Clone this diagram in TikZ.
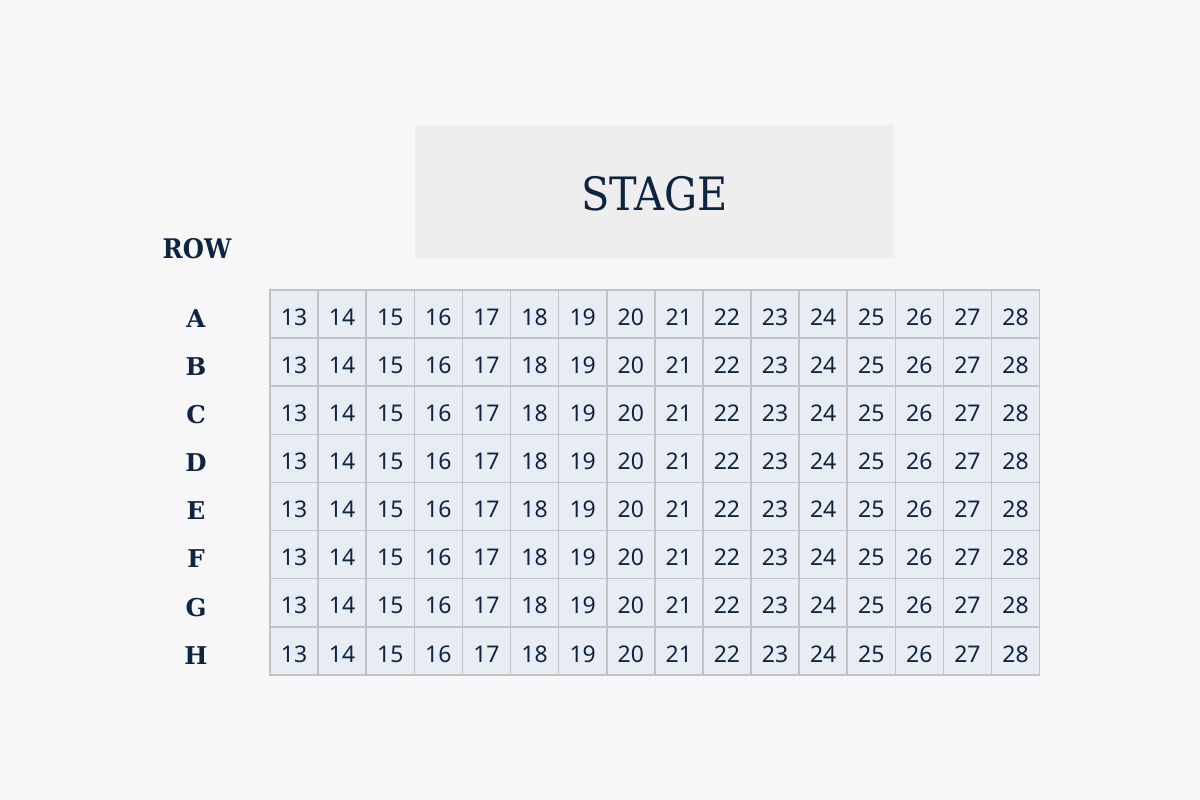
\documentclass[tikz,border=0pt]{standalone}
\usepackage{fontspec}
\setmainfont{Noto Sans}
\newfontfamily\serifc{DejaVu Serif Condensed}
\newfontfamily\serifn{DejaVu Serif}
\definecolor{bg}{HTML}{F7F7F7}
\definecolor{stagefill}{HTML}{EEEEEE}
\definecolor{ink}{HTML}{0F2440}
\definecolor{cellfill}{HTML}{E8EDF4}
\definecolor{cellline}{HTML}{C0C3C9}
\begin{document}
\begin{tikzpicture}[x=1pt,y=-1pt,
  seat/.style={draw=cellline,line width=1.6pt,fill=cellfill,minimum width=48.1pt,minimum height=48.1pt,inner sep=0pt,text=ink,text height=22.5pt,text depth=0pt,font=\fontsize{23}{23}\selectfont},
  rowlab/.style={text=ink,font=\serifn\bfseries\fontsize{24.5}{24.5}\selectfont,inner sep=0pt},
  stagebox/.style={fill=stagefill,minimum width=479pt,minimum height=133pt,inner sep=0pt,text=ink,text height=38pt,text depth=0pt,font=\serifc\fontsize{46}{46}\selectfont}]
\fill[bg] (0,0) rectangle (1200,800);
\useasboundingbox (0,0) rectangle (1200,800);
\node[stagebox] (stage) at (654.5,191.5) {STAGE};
\node[rowlab,font=\serifc\bfseries\fontsize{27}{27}\selectfont] (rowhdr) at (197,249) {ROW};
\foreach \r [count=\i from 0] in {A,B,C,D,E,F,G,H} {
  \node[rowlab] (lab\r) at (196,318.5+48.1*\i) {\r};
  \foreach \n [count=\j from 0] in {13,...,28} {
    \node[seat] (s\r\n) at (294.05+48.1*\j,314.05+48.1*\i) {\n};
  }
}
\end{tikzpicture}
\end{document}
